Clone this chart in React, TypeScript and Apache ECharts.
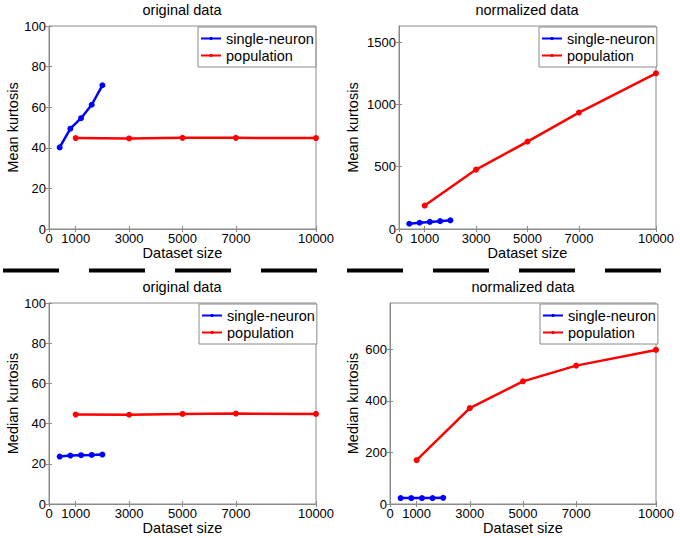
import React, { useEffect, useRef } from "react";
import * as echarts from "echarts";

const singleSizes = [400, 800, 1200, 1600, 2000];
const popSizes = [1000, 3000, 5000, 7000, 10000];
const xTicks = [0, 1000, 3000, 5000, 7000, 10000];

const meanOrigSingle = [40.2, 49.4, 54.6, 61.2, 70.8];
const meanOrigPop = [44.8, 44.6, 44.9, 44.9, 44.8];
const meanNormSingle = [42, 50, 57, 63, 70];
const meanNormPop = [188, 477, 702, 935, 1250];
const medOrigSingle = [23.6, 24.1, 24.3, 24.4, 24.6];
const medOrigPop = [44.5, 44.4, 44.8, 45.0, 44.8];
const medNormSingle = [23, 23, 23, 23, 24];
const medNormPop = [170, 372, 476, 537, 598];

const titles = ["original data", "normalized data", "original data", "normalized data"];
const yNames = ["Mean kurtosis", "Mean kurtosis", "Median kurtosis", "Median kurtosis"];
const yMax = [100, 1630, 100, 780];
const yTicks = [
  [0, 20, 40, 60, 80, 100],
  [0, 500, 1000, 1500],
  [0, 20, 40, 60, 80, 100],
  [0, 200, 400, 600],
];
const singleData = [meanOrigSingle, meanNormSingle, medOrigSingle, medNormSingle];
const popData = [meanOrigPop, meanNormPop, medOrigPop, medNormPop];
const legendNames = ["single-neuron", "population"];

const FONT = "Liberation Sans, Arial, sans-serif";
const AXIS = "#8a8a8a";
const plain = (v: number) => String(v);

export default function App() {
  const ref = useRef<HTMLDivElement>(null);
  useEffect(() => {
    if (!ref.current) return;
    const chart = echarts.init(ref.current, undefined, { renderer: "svg" });
    const grids = [
      { left: 49, top: 26, width: 267, height: 203 },
      { left: 399, top: 26, width: 257, height: 203 },
      { left: 49, top: 303, width: 267, height: 201 },
      { left: 390, top: 303, width: 266, height: 201 },
    ];
    const yNameGap = [29, 39, 29, 30];
    const legendPos = [
      { left: 198, top: 27 },
      { left: 539, top: 27 },
      { left: 199, top: 304 },
      { left: 540, top: 304 },
    ];
    const titlePos = [
      [182, 10],
      [527, 10],
      [182, 287],
      [523, 287],
    ];
    const xAxes: any[] = [];
    const yAxes: any[] = [];
    const series: any[] = [];
    for (let i = 0; i < 4; i++) {
      xAxes.push({
        type: "value",
        gridIndex: i,
        min: 0,
        max: 10000,
        name: "Dataset size",
        nameLocation: "middle",
        nameGap: 16,
        nameTextStyle: { color: "#000", fontSize: 14.5, fontFamily: FONT },
        axisLine: { show: true, lineStyle: { color: AXIS, width: 1 } },
        axisTick: { show: true, inside: true, length: 3, lineStyle: { color: AXIS }, customValues: xTicks },
        axisLabel: { color: "#000", fontSize: 13, fontFamily: FONT, margin: 3, customValues: xTicks, formatter: plain },
        splitLine: { show: false },
      });
      yAxes.push({
        type: "value",
        gridIndex: i,
        min: 0,
        max: yMax[i],
        name: yNames[i],
        nameLocation: "middle",
        nameGap: yNameGap[i],
        nameTextStyle: { color: "#000", fontSize: 14.5, fontFamily: FONT },
        axisLine: { show: true, lineStyle: { color: AXIS, width: 1 } },
        axisTick: { show: true, inside: true, length: 3, lineStyle: { color: AXIS }, customValues: yTicks[i] },
        axisLabel: { color: "#000", fontSize: 13, fontFamily: FONT, margin: 3, customValues: yTicks[i], formatter: plain },
        splitLine: { show: false },
      });
      series.push({
        name: legendNames[0],
        type: "line",
        xAxisIndex: i,
        yAxisIndex: i,
        data: singleSizes.map((x, k) => [x, singleData[i][k]]),
        symbol: "circle",
        symbolSize: 6,
        lineStyle: { color: "#0000ff", width: 2.5 },
        itemStyle: { color: "#0000ff" },
      });
      series.push({
        name: legendNames[1],
        type: "line",
        xAxisIndex: i,
        yAxisIndex: i,
        data: popSizes.map((x, k) => [x, popData[i][k]]),
        symbol: "circle",
        symbolSize: 6,
        lineStyle: { color: "#ff0000", width: 2.5 },
        itemStyle: { color: "#ff0000" },
      });
    }
    // mirrored ticks (top / right)
    for (let i = 0; i < 4; i++) {
      xAxes.push({
        type: "value",
        gridIndex: i,
        position: "top",
        min: 0,
        max: 10000,
        axisLine: { show: false },
        axisTick: { show: true, inside: true, length: 3, lineStyle: { color: AXIS }, customValues: xTicks },
        axisLabel: { show: false },
        splitLine: { show: false },
      });
      yAxes.push({
        type: "value",
        gridIndex: i,
        position: "right",
        min: 0,
        max: yMax[i],
        axisLine: { show: false },
        axisTick: { show: true, inside: true, length: 3, lineStyle: { color: AXIS }, customValues: yTicks[i] },
        axisLabel: { show: false },
        splitLine: { show: false },
      });
    }
    const legends = legendPos.map((p) => ({
      left: p.left,
      top: p.top,
      orient: "vertical",
      data: legendNames,
      itemWidth: 20,
      itemHeight: 4,
      itemGap: 2,
      padding: [4, 2, 4, 2],
      borderColor: AXIS,
      borderWidth: 1,
      backgroundColor: "#fff",
      selectedMode: false,
      textStyle: { color: "#000", fontSize: 14.5, fontFamily: FONT },
    }));
    const graphics: any[] = titles.map((t, i) => ({
      type: "text",
      x: titlePos[i][0],
      y: titlePos[i][1],
      style: {
        text: t,
        fill: "#000",
        font: `14.5px ${FONT}`,
        textAlign: "center",
        textVerticalAlign: "middle",
      },
    }));
    graphics.push({
      type: "line",
      shape: { x1: 3, y1: 270.5, x2: 661, y2: 270.5 },
      style: { stroke: "#000", lineWidth: 4, lineDash: [56, 30] },
    });
    chart.setOption({
      animation: false,
      backgroundColor: "#fff",
      grid: grids.map((g) => ({ ...g, show: true, borderColor: AXIS, borderWidth: 1, backgroundColor: "transparent" })),
      xAxis: xAxes,
      yAxis: yAxes,
      legend: legends,
      series,
      graphic: graphics,
    });
    return () => chart.dispose();
  }, []);
  return (
    <div
      ref={ref}
      style={{ position: "fixed", left: 0, top: 0, width: 680, height: 538 }}
    />
  );
}
